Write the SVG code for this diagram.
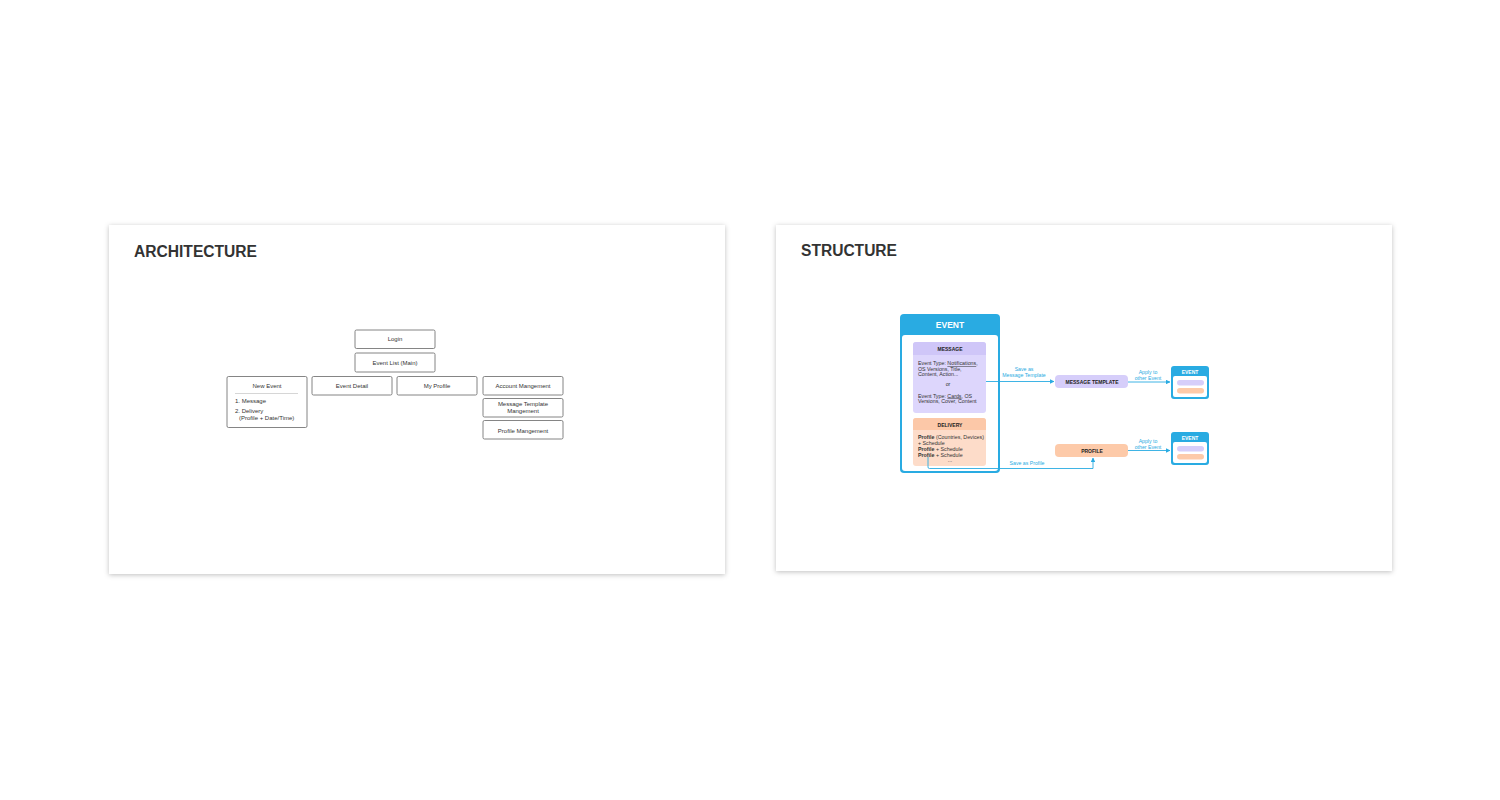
<svg xmlns="http://www.w3.org/2000/svg" width="1500" height="800" viewBox="0 0 1500 800">
<style>
text{font-family:"Liberation Sans",Arial,sans-serif;}
.title{font-size:16px;font-weight:bold;fill:#333;}
.abox{fill:#fff;stroke:#666;stroke-width:0.8;}
.at{font-size:6px;fill:#333;}
.blue{fill:#29abe2;}
.conn{fill:none;stroke:#29abe2;stroke-width:0.9;}
.cl{font-size:5.2px;fill:#29abe2;text-anchor:middle;}
.st{font-size:5.3px;fill:#333;}
.sb{font-size:5px;font-weight:bold;fill:#222;text-anchor:middle;}
.wh{font-weight:bold;fill:#fff;text-anchor:middle;}
</style>
<defs>
<filter id="sh" x="-5%" y="-5%" width="110%" height="115%">
<feDropShadow dx="0" dy="1" stdDeviation="2.5" flood-color="#000" flood-opacity="0.25"/>
</filter>
<marker id="ar" viewBox="0 0 10 10" refX="9" refY="5" markerWidth="5" markerHeight="5" orient="auto-start-reverse">
<path d="M0,0 L10,5 L0,10 z" fill="#29abe2"/>
</marker>
</defs>
<rect width="1500" height="800" fill="#fff"/>

<g id="panel-architecture">
<rect x="109" y="225" width="616" height="349" fill="#fff" filter="url(#sh)"/>
<text class="title" x="134" y="257" textLength="123" lengthAdjust="spacingAndGlyphs">ARCHITECTURE</text>
</g>
<g id="panel-structure">
<rect x="776" y="225" width="616" height="346" fill="#fff" filter="url(#sh)"/>
<text class="title" x="801" y="256" textLength="96" lengthAdjust="spacingAndGlyphs">STRUCTURE</text>
</g>

<g id="login">
<rect class="abox" x="355" y="330" width="80" height="18.5" rx="1.5"/>
<text class="at" x="395" y="341" text-anchor="middle">Login</text>
</g>
<g id="event-list">
<rect class="abox" x="355" y="353" width="80" height="19" rx="1.5"/>
<text class="at" x="395" y="364.5" text-anchor="middle">Event List (Main)</text>
</g>
<g id="new-event">
<rect class="abox" x="227" y="376.5" width="80" height="51" rx="1.5"/>
<text class="at" x="267" y="388" text-anchor="middle">New Event</text>
<line x1="235" y1="393.5" x2="298" y2="393.5" stroke="#bbb" stroke-width="0.6"/>
<text class="at" x="235" y="403" font-size="5.5">1. Message</text>
<text class="at" x="235" y="413" font-size="5.5">2. Delivery</text>
<text class="at" x="239" y="419.5" font-size="5.5">(Profile + Date/Time)</text>
</g>
<g id="event-detail">
<rect class="abox" x="312" y="376.5" width="80" height="18.5" rx="1.5"/>
<text class="at" x="352" y="387.5" text-anchor="middle">Event Detail</text>
</g>
<g id="my-profile">
<rect class="abox" x="397" y="376.5" width="80" height="18.5" rx="1.5"/>
<text class="at" x="437" y="387.5" text-anchor="middle">My Profile</text>
</g>
<g id="account-mgmt">
<rect class="abox" x="483" y="376.5" width="80" height="18.5" rx="1.5"/>
<text class="at" x="523" y="388" text-anchor="middle">Account Mangement</text>
</g>
<g id="msg-template-mgmt">
<rect class="abox" x="483" y="398.5" width="80" height="18.5" rx="1.5"/>
<text class="at" x="523" y="406" text-anchor="middle">Message Template</text>
<text class="at" x="523" y="413" text-anchor="middle">Mangement</text>
</g>
<g id="profile-mgmt">
<rect class="abox" x="483" y="420.5" width="80" height="18.5" rx="1.5"/>
<text class="at" x="523" y="432.5" text-anchor="middle">Profile Mangement</text>
</g>

<g id="event">
<rect x="900" y="314" width="100" height="159" rx="4" class="blue"/>
<rect x="902" y="335" width="96" height="136" rx="3" fill="#fff"/>
<text class="wh" x="950" y="327.5" font-size="8.5">EVENT</text>
</g>
<g id="message">
<rect x="913" y="342" width="73" height="71" rx="3" fill="#ddd6fc"/>
<path d="M913,355 V345 a3,3 0 0 1 3,-3 H983 a3,3 0 0 1 3,3 V355 z" fill="#cfc6f8"/>
<text class="sb" x="950" y="350.5">MESSAGE</text>
<text class="st" x="918" y="365">Event Type: <tspan text-decoration="underline">Notifications</tspan>,</text>
<text class="st" x="918" y="370.5">OS Versions, Title,</text>
<text class="st" x="918" y="376">Content, Action...</text>
<text class="st" x="948" y="386" text-anchor="middle">or</text>
<text class="st" x="918" y="397.5">Event Type: <tspan text-decoration="underline">Cards</tspan>, OS</text>
<text class="st" x="918" y="403">Versions, Cover, Content</text>
</g>
<g id="delivery">
<rect x="913" y="418" width="73" height="48" rx="3" fill="#fddcc9"/>
<path d="M913,430 V421 a3,3 0 0 1 3,-3 H983 a3,3 0 0 1 3,3 V430 z" fill="#fcc8a8"/>
<text class="sb" x="950" y="426.5">DELIVERY</text>
<text class="st" x="918" y="439"><tspan font-weight="bold">Profile</tspan> (Countries, Devices)</text>
<text class="st" x="918" y="444.5">+ Schedule</text>
<text class="st" x="918" y="450.5"><tspan font-weight="bold">Profile</tspan> + Schedule</text>
<text class="st" x="918" y="456.5"><tspan font-weight="bold">Profile</tspan> + Schedule</text>
<text class="st" x="950" y="462" text-anchor="middle">...</text>
</g>

<g id="message-template">
<rect x="1055" y="375" width="73" height="13" rx="4" fill="#d6cefa"/>
<text class="sb" x="1092" y="383.5">MESSAGE TEMPLATE</text>
</g>
<g id="profile">
<rect x="1055" y="444" width="73" height="13" rx="4" fill="#fdcaa9"/>
<text class="sb" x="1092" y="452.5">PROFILE</text>
</g>
<g id="event-mini-1">
<rect x="1171" y="366" width="38" height="33" rx="3" class="blue"/>
<rect x="1173" y="376" width="34" height="21" rx="2" fill="#fff"/>
<text class="wh" x="1190" y="373.5" font-size="5">EVENT</text>
<rect x="1177" y="380" width="27" height="5.5" rx="2.75" fill="#d6cefa"/>
<rect x="1177" y="388" width="27" height="5.5" rx="2.75" fill="#fdcaa9"/>
</g>
<g id="event-mini-2">
<rect x="1171" y="432" width="38" height="33" rx="3" class="blue"/>
<rect x="1173" y="442" width="34" height="21" rx="2" fill="#fff"/>
<text class="wh" x="1190" y="439.5" font-size="5">EVENT</text>
<rect x="1177" y="446" width="27" height="5.5" rx="2.75" fill="#d6cefa"/>
<rect x="1177" y="454" width="27" height="5.5" rx="2.75" fill="#fdcaa9"/>
</g>

<g id="connectors">
<path class="conn" d="M986,381.5 H1054" marker-end="url(#ar)"/>
<text class="cl" x="1024" y="371">Save as</text>
<text class="cl" x="1024" y="377">Message Template</text>
<path class="conn" d="M1128,382 H1170" marker-end="url(#ar)"/>
<text class="cl" x="1148" y="374">Apply to</text>
<text class="cl" x="1148" y="380">other Event</text>
<path class="conn" d="M1128,450.5 H1170" marker-end="url(#ar)"/>
<text class="cl" x="1148" y="442.5">Apply to</text>
<text class="cl" x="1148" y="448.5">other Event</text>
<path class="conn" d="M928,457 V467 a1.5,1.5 0 0 0 1.5,1.5 H1093 V458" marker-end="url(#ar)"/>
<text class="cl" x="1027" y="465">Save as Profile</text>
</g>
</svg>
